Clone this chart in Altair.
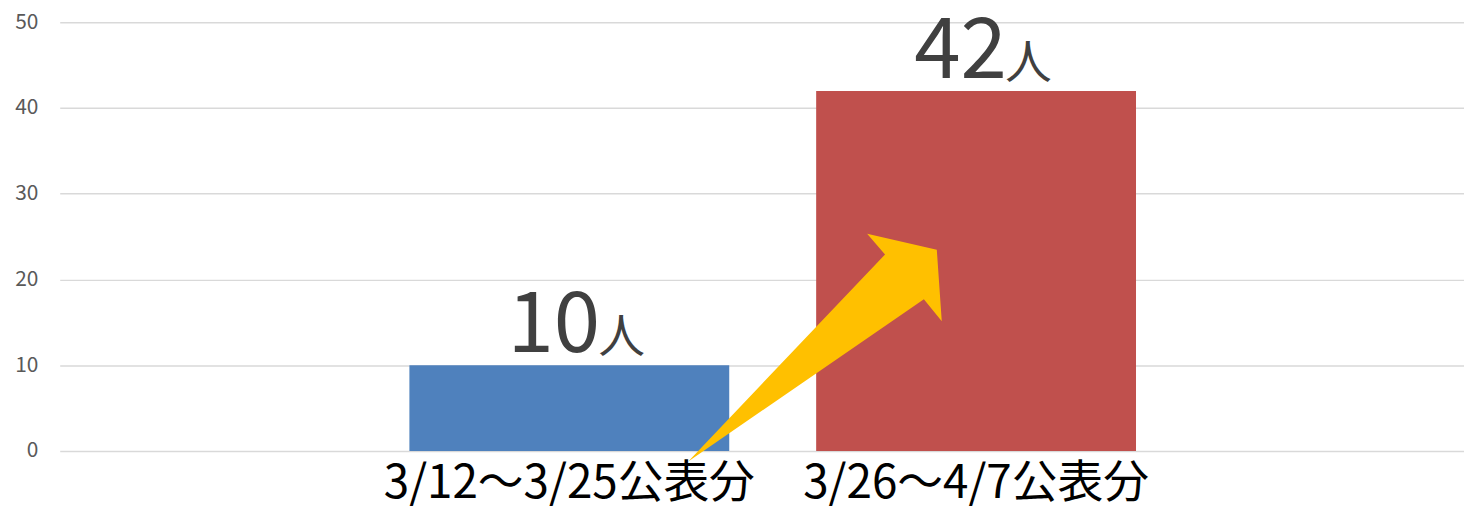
import altair as alt
import pandas as pd

# ---- data ----
categories = ["3/12～3/25公表分", "3/26～4/7公表分"]
values = [10, 42]
bar_colors = ["#4F81BD", "#C0504D"]
number_texts = ["10", "42"]
unit_texts = ["人", "人"]
y_ticks = [0, 10, 20, 30, 40, 50]

# arrow annotation (points to the second period), value-level anchor
arrow_period = [categories[1]]
arrow_level = [12]

FONT = "Noto Sans CJK JP"

df = pd.DataFrame({
    "period": categories,
    "count": values,
    "color": bar_colors,
    "num": number_texts,
    "unit": unit_texts,
})
df_arrow = pd.DataFrame({"period": arrow_period, "count": arrow_level})

# arrow outline (symbol path, unit square coordinates)
outline = [(-0.984, 0.887), (0.556, -0.732), (0.416, -0.895),
           (0.961, -0.770), (1.0, -0.210), (0.860, -0.381)]
arrow_path = "M " + " L ".join(f"{px} {py}" for px, py in outline) + " Z"

x_scale = alt.Scale(paddingInner=0.2137, paddingOuter=0.833, align=0.516)
y_scale = alt.Scale(domain=[0, 50], nice=False)

bars = alt.Chart(df).mark_bar().encode(
    x=alt.X("period:N", sort=categories, title=None, scale=x_scale,
            axis=alt.Axis(labelAngle=0, labelFontSize=46, labelColor="#000000",
                          labelFont=FONT, ticks=False, domain=False,
                          labelPadding=11, grid=False, labelLimit=0)),
    y=alt.Y("count:Q", title=None, scale=y_scale,
            axis=alt.Axis(values=y_ticks, labelFontSize=21, labelColor="#595959",
                          labelFont=FONT, ticks=False, domain=False,
                          labelPadding=22, grid=True, gridColor="#D9D9D9",
                          gridWidth=1.5)),
    color=alt.Color("color:N", scale=None),
)

arrow = alt.Chart(df_arrow).mark_point(
    shape=arrow_path, size=257 ** 2, filled=True, fill="#FFC000",
    opacity=1, strokeWidth=0, xOffset=-163,
).encode(
    x=alt.X("period:N", sort=categories),
    y=alt.Y("count:Q"),
)

nums = alt.Chart(df).mark_text(
    align="right", baseline="alphabetic", dx=31, dy=-13,
    fontSize=84, font=FONT, color="#404040",
).encode(
    x=alt.X("period:N", sort=categories),
    y=alt.Y("count:Q"),
    text="num:N",
)

units = alt.Chart(df).mark_text(
    align="left", baseline="alphabetic", dx=29, dy=-13,
    fontSize=47, font=FONT, color="#404040",
).encode(
    x=alt.X("period:N", sort=categories),
    y=alt.Y("count:Q"),
    text="unit:N",
)

chart = alt.layer(bars, arrow, nums, units).properties(
    width=1412,
    height=431,
    padding={"left": 52, "top": 13, "right": 0, "bottom": 55},
    autosize=alt.AutoSizeParams(type="none"),
).configure_view(stroke=None)

chart.save("out.html", embed_options={"renderer": "svg", "actions": False})
